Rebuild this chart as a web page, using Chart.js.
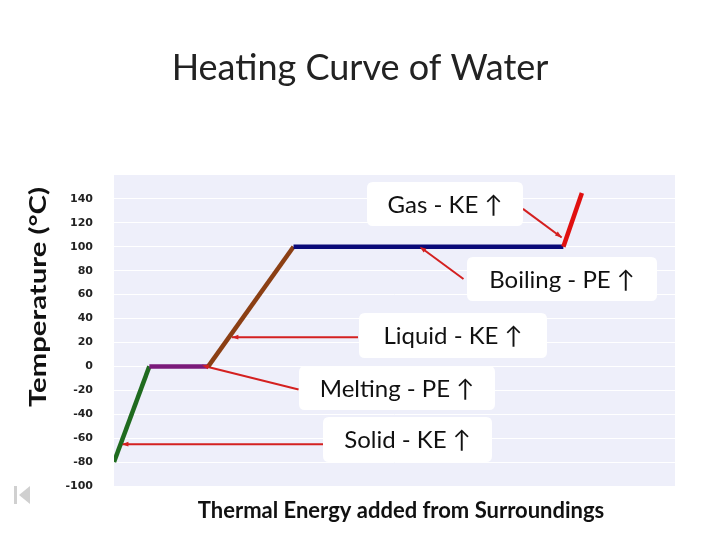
<!DOCTYPE html>
<html>
<head>
<meta charset="utf-8">
<script src="https://cdn.jsdelivr.net/npm/chart.js@4.4.1/dist/chart.umd.min.js"></script>
<style>
  html, body { margin: 0; padding: 0; background: #fff; }
  #wrap { width: 720px; height: 540px; position: relative; }
</style>
</head>
<body>
<div id="wrap"><canvas id="curve" width="720" height="540"></canvas></div>
<script>
// heating curve (x = energy added, y = temperature in C)
const energy = [0, 6.3, 16.8, 32.0, 80.1, 83.4];
const temperature = [-80, 0, 0, 100, 100, 145];
const segColors = ['#1f6b1f', '#7a1a7a', '#8b3f14', '#0a0a78', '#e01010'];

// callouts
const calloutText = ['Gas - KE \u2191', 'Boiling - PE \u2191', 'Liquid - KE \u2191', 'Melting - PE \u2191', 'Solid - KE \u2191'];
const arrowFromX = [72.9, 62.3, 43.5, 32.9, 37.3];
const arrowFromY = [131.7, 73, 24.4, -19.4, -65];
const arrowToX = [79.8, 54.5, 21.0, 15.7, 1.4];
const arrowToY = [107.8, 100, 24.4, 0.8, -65];

const yTicks = [-100, -80, -60, -40, -20, 0, 20, 40, 60, 80, 100, 120, 140];

// box rectangles for the callouts [x, y, w, h]
const boxes = [
  [367, 182, 156, 44],
  [467, 257, 190, 44],
  [359, 313, 188, 45],
  [299, 366, 196, 44],
  [323, 417, 169, 45]
];

const curvePoints = energy.map((e, i) => ({ x: e, y: temperature[i] }));

const arrowSets = calloutText.map((t, i) => ({
  label: t,
  data: [{ x: arrowFromX[i], y: arrowFromY[i] }, { x: arrowToX[i], y: arrowToY[i] }],
  borderColor: '#d42020',
  borderWidth: 2,
  pointRadius: 0,
  order: 2
}));

function roundRect(c, x, y, w, h, r) {
  c.beginPath();
  c.moveTo(x + r, y);
  c.lineTo(x + w - r, y);
  c.quadraticCurveTo(x + w, y, x + w, y + r);
  c.lineTo(x + w, y + h - r);
  c.quadraticCurveTo(x + w, y + h, x + w - r, y + h);
  c.lineTo(x + r, y + h);
  c.quadraticCurveTo(x, y + h, x, y + h - r);
  c.lineTo(x, y + r);
  c.quadraticCurveTo(x, y, x + r, y);
  c.closePath();
}

// draw text stretched to a given width
function fitText(c, txt, x, y, w) {
  const m = c.measureText(txt).width;
  c.save();
  c.translate(x, y);
  c.scale(w / m, 1);
  c.fillText(txt, 0, 0);
  c.restore();
}

const slide = {
  id: 'slide',
  beforeDraw(chart) {
    const c = chart.ctx, a = chart.chartArea;
    c.save();
    c.fillStyle = '#eeeffa';
    c.fillRect(a.left, a.top, a.right - a.left, a.bottom - a.top);
    c.restore();
  },
  afterDatasetsDraw(chart) {
    const c = chart.ctx;
    c.save();
    // arrow heads
    const xs = chart.scales.x, ys = chart.scales.y;
    c.fillStyle = '#d42020';
    calloutText.forEach((t, i) => {
      const x1 = xs.getPixelForValue(arrowFromX[i]), y1 = ys.getPixelForValue(arrowFromY[i]);
      const x2 = xs.getPixelForValue(arrowToX[i]), y2 = ys.getPixelForValue(arrowToY[i]);
      const ang = Math.atan2(y2 - y1, x2 - x1);
      c.beginPath();
      c.moveTo(x2, y2);
      c.lineTo(x2 - 7 * Math.cos(ang - 0.35), y2 - 7 * Math.sin(ang - 0.35));
      c.lineTo(x2 - 7 * Math.cos(ang + 0.35), y2 - 7 * Math.sin(ang + 0.35));
      c.closePath();
      c.fill();
    });
    // boxes
    c.font = '24px Lato, "Open Sans", sans-serif';
    c.textAlign = 'center';
    c.textBaseline = 'middle';
    boxes.forEach((b, i) => {
      c.fillStyle = '#ffffff';
      roundRect(c, b[0], b[1], b[2], b[3], 6);
      c.fill();
      c.fillStyle = '#111';
      c.fillText(calloutText[i], b[0] + b[2] / 2, b[1] + b[3] / 2 + 1);
    });
    c.restore();
  },
  afterDraw(chart) {
    const c = chart.ctx;
    c.save();
    c.fillStyle = '#222';
    c.textAlign = 'center';
    c.textBaseline = 'middle';
    c.font = '36px Lato, "Open Sans", sans-serif';
    c.fillText('Heating Curve of Water', 360, 68);
    c.fillStyle = '#111';
    c.font = 'bold 22px Lato, "Open Sans", sans-serif';
    c.fillText('Thermal Energy added from Surroundings', 401, 511);
    c.translate(39, 297);
    c.rotate(-Math.PI / 2);
    c.font = 'bold 23px Lato, "Open Sans", sans-serif';
    fitText(c, 'Temperature (\u00b0C)', 0, 0, 220);
    c.restore();
    // slide nav icon
    c.save();
    c.fillStyle = '#d0d0d0';
    c.fillRect(14, 486, 3, 18);
    c.beginPath();
    c.moveTo(19, 495);
    c.lineTo(30, 486);
    c.lineTo(30, 504);
    c.closePath();
    c.fill();
    c.restore();
  }
};

new Chart(document.getElementById('curve'), {
  type: 'line',
  data: {
    datasets: [{
      label: 'Heating curve',
      data: curvePoints,
      borderWidth: 4.5,
      pointRadius: 0,
      order: 1,
      segment: {
        borderColor: s => segColors[s.p0DataIndex]
      }
    }].concat(arrowSets)
  },
  options: {
    responsive: false,
    animation: false,
    layout: { padding: { top: 175, right: 45, bottom: 54, left: 0 } },
    plugins: {
      legend: { display: false },
      tooltip: { enabled: false }
    },
    scales: {
      x: {
        type: 'linear',
        min: 0,
        max: 100,
        display: false
      },
      y: {
        type: 'linear',
        min: -100,
        max: 160,
        afterFit: s => { s.width = 114; },
        afterBuildTicks: s => { s.ticks = yTicks.map(v => ({ value: v })); },
        border: { display: false },
        grid: { color: '#ffffff', lineWidth: 1, drawTicks: false },
        ticks: {
          padding: 21,
          color: '#222',
          font: { family: 'DejaVu Sans', weight: 'bold', size: 11 }
        }
      }
    }
  },
  plugins: [slide]
});
</script>
</body>
</html>
